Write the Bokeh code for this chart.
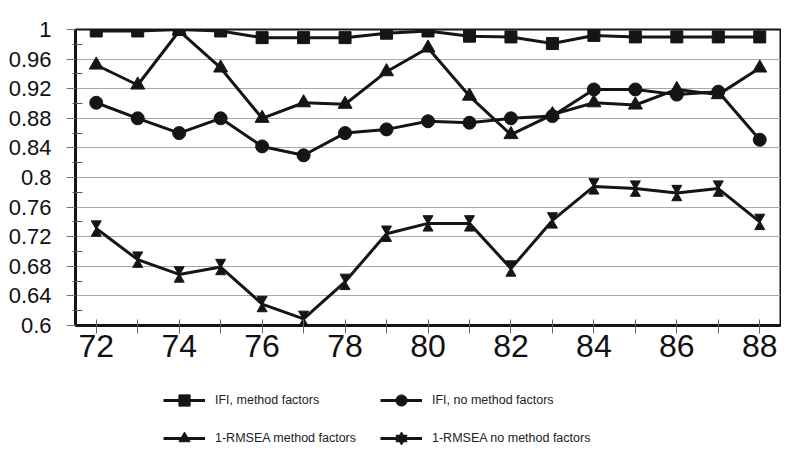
from bokeh.plotting import figure
from bokeh.layouts import column
from bokeh.models import Range1d, FixedTicker, Legend, LegendItem, ColumnDataSource
from bokeh.transform import dodge
from bokeh.embed import file_html
from bokeh.resources import INLINE

years = list(range(72, 89))
ifi_method = [0.998, 0.998, 1.0, 0.998, 0.989, 0.989, 0.989, 0.995, 0.998, 0.991,
              0.990, 0.981, 0.992, 0.990, 0.990, 0.990, 0.990]
ifi_no_method = [0.901, 0.880, 0.860, 0.880, 0.842, 0.830, 0.860, 0.865, 0.876, 0.874,
                 0.880, 0.883, 0.919, 0.919, 0.912, 0.916, 0.851]
rmsea_method = [0.952, 0.925, 0.998, 0.948, 0.880, 0.901, 0.899, 0.943, 0.975, 0.910,
                0.858, 0.885, 0.901, 0.898, 0.919, 0.912, 0.948]
rmsea_no_method = [0.731, 0.689, 0.669, 0.679, 0.629, 0.609, 0.659, 0.724, 0.738, 0.738,
                   0.677, 0.742, 0.788, 0.785, 0.779, 0.785, 0.740]
series_labels = ["IFI, method factors", "IFI, no method factors",
                 "1-RMSEA method factors", "1-RMSEA no method factors"]
y_ticks = [0.6, 0.64, 0.68, 0.72, 0.76, 0.8, 0.84, 0.88, 0.92, 0.96, 1.0]
y_tick_labels = ["0.6", "0.64", "0.68", "0.72", "0.76", "0.8", "0.84", "0.88", "0.92", "0.96", "1"]
x_tick_labels = {y: (str(y) if y % 2 == 0 else "") for y in years}

src = ColumnDataSource(dict(x=years, a=ifi_method, b=ifi_no_method, c=rmsea_method, d=rmsea_no_method))
cols = ["a", "b", "c", "d"]

INK = "#151515"
FONT = "Liberation Sans"

p = figure(width=781, height=372, output_backend="svg", toolbar_location=None,
           x_range=Range1d(71.5, 88.5), y_range=Range1d(0.6, 1.0),
           min_border_left=75, min_border_right=1, min_border_top=29, min_border_bottom=47)
p.background_fill_color = "white"
p.border_fill_color = "white"
p.outline_line_color = INK
p.outline_line_width = 2

# axes
p.xaxis.ticker = FixedTicker(ticks=years)
p.xaxis.major_label_overrides = x_tick_labels
p.xaxis.major_label_text_font = FONT
p.xaxis.major_label_text_font_size = "32px"
p.xaxis.major_label_text_color = "#111111"
p.xaxis.major_label_standoff = 1
p.xaxis.major_tick_in = 6
p.xaxis.major_tick_out = 8
p.xaxis.minor_tick_line_color = None
p.xaxis.axis_line_width = 3
p.xaxis.axis_line_color = INK
p.xaxis.major_tick_line_color = "#666666"

p.yaxis.ticker = FixedTicker(ticks=y_ticks, minor_ticks=[0.62 + 0.04 * i for i in range(10)])
p.yaxis.major_label_overrides = {t: l for t, l in zip(y_ticks, y_tick_labels)}
p.yaxis.major_label_text_font = FONT
p.yaxis.major_label_text_font_size = "22px"
p.yaxis.major_label_text_color = "#111111"
p.yaxis.major_label_standoff = 15
p.yaxis.major_tick_in = 0
p.yaxis.major_tick_out = 9
p.yaxis.major_tick_line_color = "#777777"
p.yaxis.minor_tick_in = 7
p.yaxis.minor_tick_out = 3
p.yaxis.minor_tick_line_color = "#555555"
p.yaxis.axis_line_width = 3
p.yaxis.axis_line_color = INK

p.xgrid.grid_line_color = None
p.ygrid.ticker = FixedTicker(ticks=y_ticks)
p.ygrid.grid_line_color = "#a8a8a8"
p.ygrid.grid_line_width = 1

LW = 3
styles = [
    dict(marker="square", size=12),
    dict(marker="circle", size=13),
    dict(marker="triangle", size=14),
]
for i in range(3):
    p.line("x", cols[i], source=src, line_color=INK, line_width=LW)
    p.scatter("x", cols[i], source=src, color=INK, **styles[i])
p.line("x", "d", source=src, line_color=INK, line_width=LW)
p.scatter("x", dodge("d", 0.0065, range=p.y_range), source=src, marker="inverted_triangle", size=10, color=INK)
p.scatter("x", dodge("d", -0.0065, range=p.y_range), source=src, marker="triangle", size=10, color=INK)

# legend panel below the chart (its renderers' points lie outside its 0..1 ranges)
lf = figure(width=781, height=88, output_backend="svg", toolbar_location=None,
            x_range=Range1d(0, 1), y_range=Range1d(0, 1),
            x_axis_location=None, y_axis_location=None,
            min_border_left=0, min_border_right=0, min_border_top=0, min_border_bottom=0)
lf.outline_line_color = None
lf.grid.grid_line_color = None
items = []
for i, lab in enumerate(series_labels):
    rl = lf.line("x", cols[i], source=src, line_color=INK, line_width=LW)
    if i < 3:
        rms = [lf.scatter("x", cols[i], source=src, color=INK, **styles[i])]
    else:
        rms = [lf.scatter("x", "d", source=src, marker="inverted_triangle", size=9, color=INK),
               lf.scatter("x", "d", source=src, marker="triangle", size=9, color=INK)]
    items.append(LegendItem(label=lab, renderers=[rl] + rms))

legend = Legend(items=items, orientation="horizontal", ncols=2, location=(88, 8))
legend.label_text_font = FONT
legend.label_text_font_size = "12.5px"
legend.label_text_color = "#222222"
legend.glyph_width = 42
legend.glyph_height = 28
legend.label_height = 28
legend.label_width = 155
legend.label_standoff = 10
legend.spacing = 10
legend.padding = 0
legend.margin = 0
legend.border_line_alpha = 0
legend.background_fill_alpha = 0
lf.add_layout(legend, "center")

layout = column(p, lf, spacing=0)
open("out.html", "w").write(file_html(layout, INLINE))
